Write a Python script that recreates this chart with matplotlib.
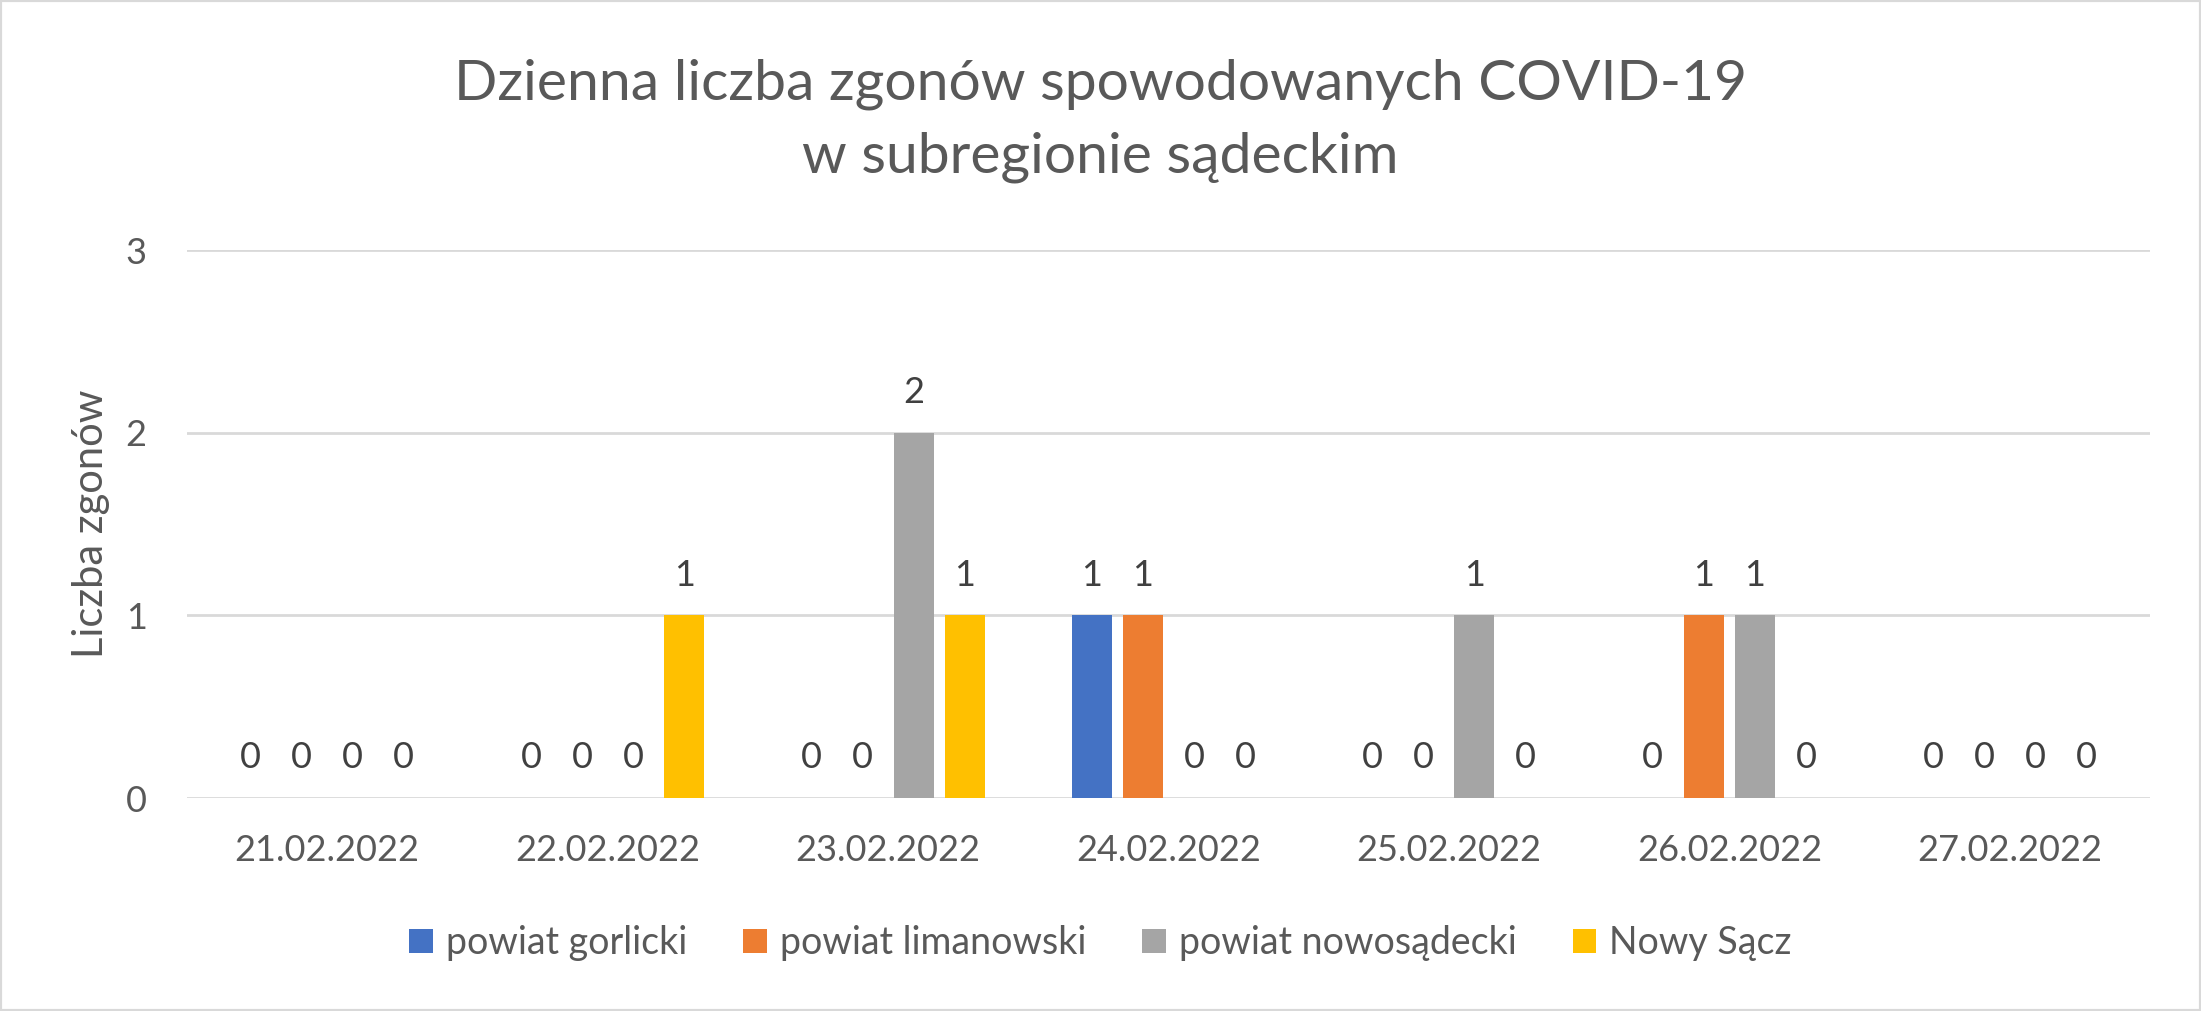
import numpy as np
import matplotlib
matplotlib.use("Agg")
import matplotlib.pyplot as plt
from matplotlib.patches import Rectangle

plt.rcParams["font.family"] = ["Lato", "DejaVu Sans"]

# data
dates = ["21.02.2022", "22.02.2022", "23.02.2022", "24.02.2022",
         "25.02.2022", "26.02.2022", "27.02.2022"]
series_names = ["powiat gorlicki", "powiat limanowski",
                "powiat nowosądecki", "Nowy Sącz"]
gorlicki = [0, 0, 0, 1, 0, 0, 0]
limanowski = [0, 0, 0, 1, 0, 1, 0]
nowosadecki = [0, 0, 2, 0, 1, 1, 0]
nowy_sacz = [0, 1, 1, 0, 0, 0, 0]
colors = ["#4472C4", "#ED7D31", "#A5A5A5", "#FFC000"]

W, H = 2201, 1011
fig = plt.figure(figsize=(W / 100, H / 100), dpi=100)
ax = fig.add_axes([187 / W, 1 - 798 / H, (2150 - 187) / W, (798 - 250) / H])

x = np.arange(len(dates))
bar_w = 0.143
step = 0.182

for i, (vals, name) in enumerate(zip([gorlicki, limanowski, nowosadecki, nowy_sacz],
                                     series_names)):
    bars = ax.bar(x + (i - 1.5) * step, vals, width=bar_w, color=colors[i],
                  label=name, zorder=3)
    ax.bar_label(bars, padding=17, fontsize=26, color="#404040")

ax.set_xlim(-0.5, 6.5)
ax.set_ylim(0, 3)
ax.set_yticks([0, 1, 2, 3])
ax.set_xticks(x)
ax.set_xticklabels(dates)
ax.tick_params(axis="both", length=0, labelsize=26, labelcolor="#595959")
ax.tick_params(axis="x", pad=26)
ax.tick_params(axis="y", pad=29)
ax.grid(axis="y", color="#D9D9D9", linewidth=2, zorder=0)
for s in ax.spines.values():
    s.set_visible(False)

fig.text(91 / W, 1 - 524 / H, "Liczba zgonów", rotation=90, ha="center",
         va="center", fontsize=30, color="#595959")

fig.text(0.5, 1 - 84 / H, "Dzienna liczba zgonów spowodowanych COVID-19",
         ha="center", va="center", fontsize=41, color="#595959")
fig.text(0.5, 1 - 157 / H, "w subregionie sądeckim",
         ha="center", va="center", fontsize=41, color="#595959")

fig.legend(loc="center", bbox_to_anchor=(0.5, 1 - 943 / H), ncol=4,
           frameon=False, fontsize=27, labelcolor="#595959",
           handlelength=0.62, handleheight=0.62, handletextpad=0.35,
           columnspacing=1.5)

fig.patches.append(Rectangle((0, 0), 1, 1, transform=fig.transFigure,
                             fill=False, edgecolor="#D9D9D9", linewidth=3))

fig.savefig("out.png", dpi=100)
